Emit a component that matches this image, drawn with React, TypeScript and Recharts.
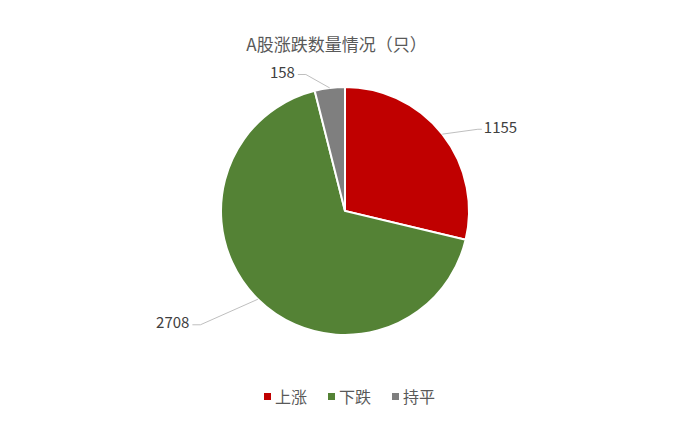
import React from 'react';
import { PieChart, Pie, Cell } from 'recharts';

const categories = ['上涨', '下跌', '持平'];
const counts = [1155, 2708, 158];
const colors = ['#C00000', '#548235', '#7F7F7F'];
const title = 'A股涨跌数量情况（只）';

// where each leader line bends (polar, relative to the pie centre)
const elbows = [
  { angle: 31.6, radius: 156 },
  { angle: -141.8, radius: 184 },
  { angle: 106, radius: 142 },
];

const data = categories.map((name, i) => ({ name, value: counts[i] }));

const RAD = Math.PI / 180;
const FONT = '"Microsoft YaHei", "Noto Sans CJK SC", sans-serif';

const renderLabel = (props: any) => {
  const { cx, cy, midAngle, outerRadius, index, value } = props;
  const e = elbows[index];
  const sx = cx + outerRadius * Math.cos(-midAngle * RAD);
  const sy = cy + outerRadius * Math.sin(-midAngle * RAD);
  const ex = cx + e.radius * Math.cos(-e.angle * RAD);
  const ey = cy + e.radius * Math.sin(-e.angle * RAD);
  const right = ex >= cx;
  const tx = ex + (right ? 4 : -8);
  return (
    <g>
      <polyline
        points={`${sx},${sy} ${ex},${ey} ${tx},${ey}`}
        fill="none"
        stroke="#BFBFBF"
        strokeWidth={1}
      />
      <text
        x={tx + (right ? 2 : -3)}
        y={ey - 3}
        textAnchor={right ? 'start' : 'end'}
        dominantBaseline="central"
        fill="#404040"
        fontSize={15}
        fontFamily={FONT}
      >
        {value}
      </text>
    </g>
  );
};

const Legend = () => (
  <div
    style={{
      position: 'absolute',
      top: 384,
      left: 0,
      width: 693,
      display: 'flex',
      justifyContent: 'center',
      paddingLeft: 6,
      boxSizing: 'border-box',
      fontFamily: FONT,
      fontSize: 16,
      color: '#595959',
    }}
  >
    {categories.map((c, i) => (
      <div key={c} style={{ display: 'flex', alignItems: 'center', marginRight: i < 2 ? 21 : 0 }}>
        <span style={{ width: 7, height: 7, background: colors[i], display: 'inline-block', marginRight: 4 }} />
        <span>{c}</span>
      </div>
    ))}
  </div>
);

export default function App() {
  return (
    <div style={{ position: 'absolute', left: 0, top: 0, width: 693, height: 424, background: '#fff' }}>
      <div
        style={{
          position: 'absolute',
          top: 31,
          left: 0,
          width: 693,
          textAlign: 'center',
          fontFamily: FONT,
          fontSize: 17,
          color: '#595959',
          paddingRight: 20,
          boxSizing: 'border-box',
        }}
      >
        {title}
      </div>
      <PieChart width={693} height={424} margin={{ top: 0, right: 0, bottom: 0, left: 0 }}>
        <Pie
          data={data}
          dataKey="value"
          nameKey="name"
          cx={345}
          cy={211}
          outerRadius={124}
          startAngle={90}
          endAngle={-270}
          stroke="#fff"
          strokeWidth={2}
          label={renderLabel}
          labelLine={false}
          isAnimationActive={false}
        >
          {data.map((d, i) => (
            <Cell key={d.name} fill={colors[i]} />
          ))}
        </Pie>
      </PieChart>
      <Legend />
    </div>
  );
}
